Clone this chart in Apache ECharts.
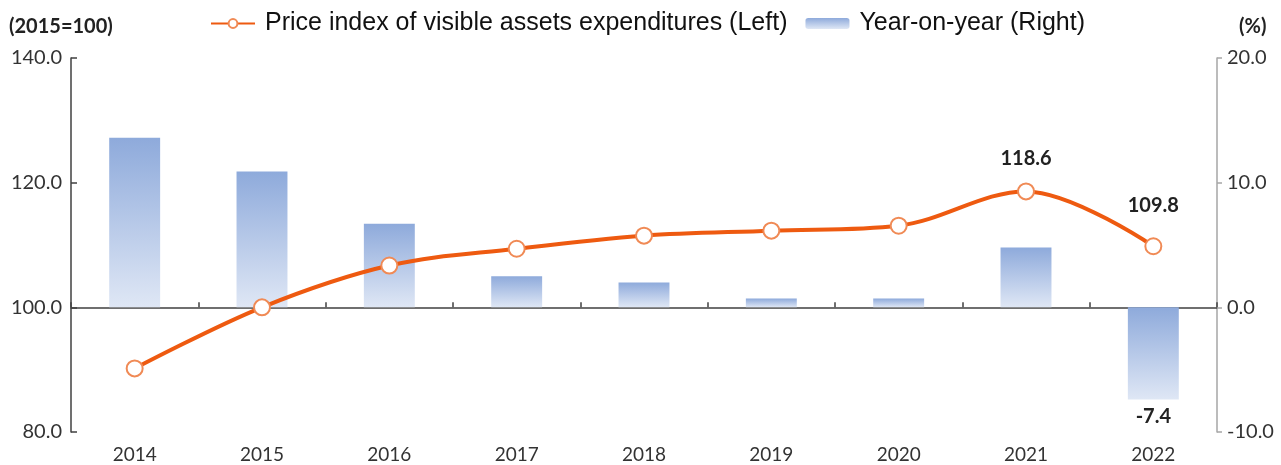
<!DOCTYPE html>
<html>
<head>
<meta charset="utf-8">
<script src="https://cdn.jsdelivr.net/npm/echarts@6/dist/echarts.min.js"></script>
<style>
  html, body { margin: 0; padding: 0; background: #fff; }
  #chart { width: 1281px; height: 465px; }
</style>
</head>
<body>
<div id="chart"></div>
<script>
// data
const years = ['2014', '2015', '2016', '2017', '2018', '2019', '2020', '2021', '2022'];
const priceIndex = [90.2, 100.0, 106.7, 109.4, 111.5, 112.3, 113.1, 118.6, 109.8];
const yoy = [13.6, 10.9, 6.7, 2.5, 2.0, 0.7, 0.7, 4.8, -7.4];
const labelledLine = [7, 8];   // points with a value label
const labelledBar = [8];

const chart = echarts.init(document.getElementById('chart'));

const numFont = 'Lato';
const barGradient = new echarts.graphic.LinearGradient(0, 0, 0, 1, [
  { offset: 0, color: '#8eaadb' },
  { offset: 1, color: '#dfe7f5' }
]);

const lineData = priceIndex.map((v, i) => {
  if (labelledLine.indexOf(i) < 0) return v;
  return {
    value: v,
    label: {
      show: true,
      position: 'top',
      distance: i === 8 ? 22 : 14,
      fontFamily: numFont,
      fontWeight: 'bold',
      fontSize: 20,
      color: '#222',
      formatter: p => p.value.toFixed(1)
    }
  };
});

const barData = yoy.map((v, i) => {
  if (labelledBar.indexOf(i) < 0) return v;
  return {
    value: v,
    label: {
      show: true,
      position: 'bottom',
      distance: 7,
      fontFamily: numFont,
      fontWeight: 'bold',
      fontSize: 20,
      color: '#222',
      formatter: p => p.value.toFixed(1)
    }
  };
});

let option = {
  animation: false,
  grid: { left: 71, right: 64, top: 58, bottom: 33 },
  legend: {
    top: 6,
    left: 205,
    itemGap: 18,
    itemWidth: 44,
    itemHeight: 11,
    textStyle: { fontFamily: 'Liberation Sans', fontSize: 25, color: '#111', padding: [0, 0, 0, 5] },
    data: [
      { name: 'Price index of visible assets expenditures (Left)' },
      { name: 'Year-on-year (Right)' }
    ]
  },
  graphic: [
    { type: 'text', left: 9, top: 17, style: { text: '(2015=100)', font: 'bold 20px Lato', fill: '#222' } },
    { type: 'text', left: 1239, top: 17, style: { text: '(%)', font: 'bold 20px Lato', fill: '#222' } }
  ],
  xAxis: [
    {
      type: 'category',
      data: years,
      axisLine: { show: false },
      axisTick: { show: false },
      axisLabel: { margin: 13, fontFamily: numFont, fontSize: 19, color: '#333' }
    },
    {
      type: 'category',
      data: years,
      axisLine: { onZero: true, onZeroAxisIndex: 1, lineStyle: { color: '#404040', width: 1.5 } },
      axisTick: { show: true, length: 5, lineStyle: { color: '#404040', width: 1.5 } },
      axisLabel: { show: false }
    }
  ],
  yAxis: [
    {
      type: 'value',
      min: 80, max: 140, interval: 20,
      splitLine: { show: false },
      axisLine: { show: true, lineStyle: { color: '#404040', width: 1.5 } },
      axisTick: { show: true, inside: true, length: 6, lineStyle: { color: '#404040', width: 1.5 } },
      axisLabel: { margin: 9, fontFamily: numFont, fontSize: 20, color: '#333', formatter: v => v.toFixed(1) }
    },
    {
      type: 'value',
      min: -10, max: 20, interval: 10,
      splitLine: { show: false },
      axisLine: { show: true, lineStyle: { color: '#a6a6a6', width: 1.5 } },
      axisTick: { show: true, length: 5, lineStyle: { color: '#a6a6a6', width: 1.5 } },
      axisLabel: { margin: 10, fontFamily: numFont, fontSize: 20, color: '#333', formatter: v => v.toFixed(1) }
    }
  ],
  series: [
    {
      name: 'Price index of visible assets expenditures (Left)',
      type: 'line',
      yAxisIndex: 0,
      data: lineData,
      smooth: 0.35,
      z: 5,
      symbol: 'circle',
      symbolSize: 16,
      lineStyle: { color: '#ee5a10', width: 4 },
      itemStyle: { color: '#ffffff', borderColor: '#f08a55', borderWidth: 2 }
    },
    {
      name: 'Year-on-year (Right)',
      type: 'bar',
      yAxisIndex: 1,
      data: barData,
      barWidth: '40%',
      itemStyle: { color: barGradient }
    }
  ]
};
chart.setOption(option);
</script>
</body>
</html>
